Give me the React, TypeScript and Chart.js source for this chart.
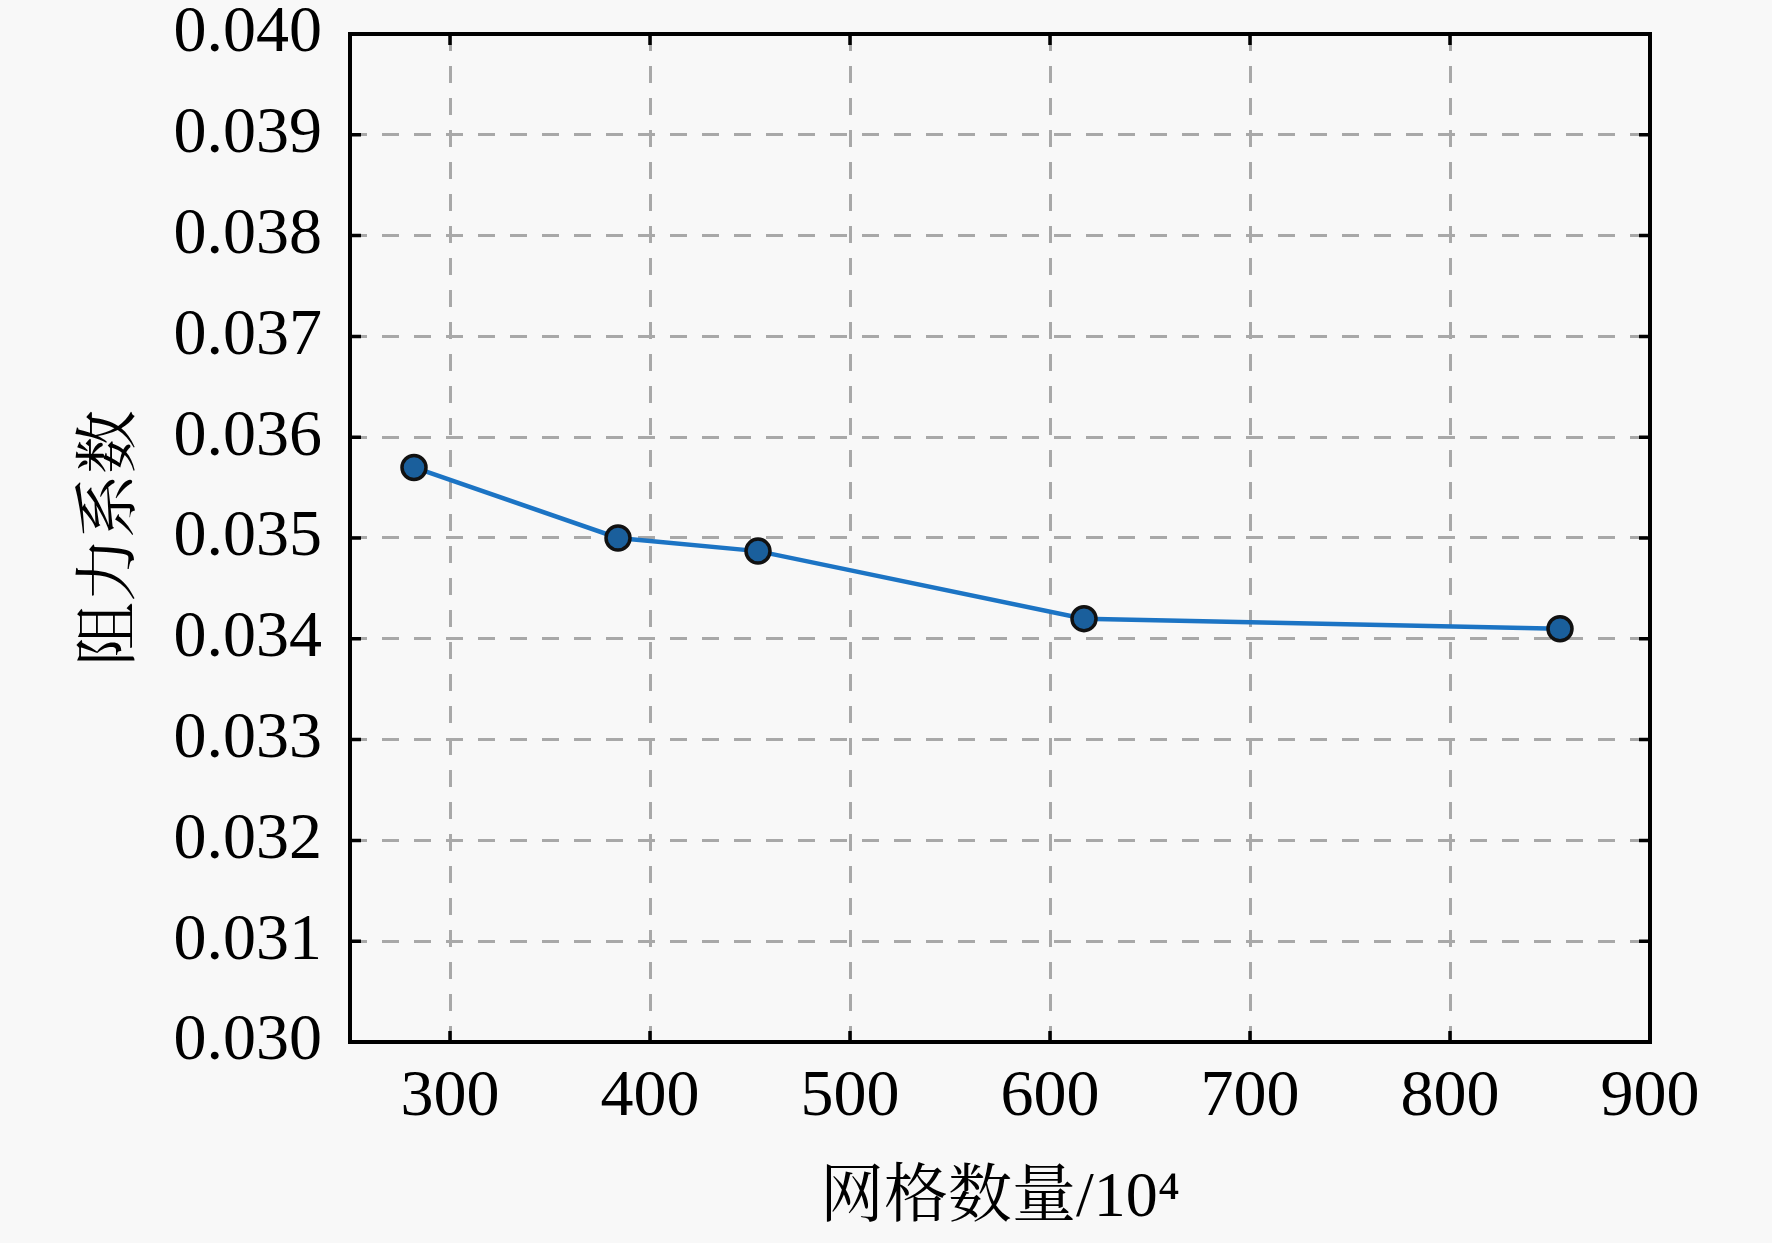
import { useEffect, useRef } from "react";
import { Chart, registerables } from "chart.js";

Chart.register(...registerables);

// mesh count (x 10^4) vs drag coefficient
const meshCounts = [282, 384, 454, 617, 855];
const dragCoefficients = [0.0357, 0.035, 0.03487, 0.0342, 0.0341];

const xMin = 250;
const xMax = 900;
const xStep = 100;
const yMin = 0.03;
const yMax = 0.04;
const yStep = 0.001;

const xTitle = "网格数量/10⁴";
const yTitle = "阻力系数";

const serif = "'Liberation Serif', 'Times New Roman', serif";
const cjk = "'Liberation Serif', 'Noto Serif CJK SC', 'Noto Sans CJK SC', serif";

// black frame with inward ticks on all four sides
const framePlugin = {
  id: "frame",
  beforeDatasetsDraw(chart: any) {
    const { ctx, chartArea: a, scales } = chart;
    const xs = scales.x;
    const ys = scales.y;
    const len = 11;
    ctx.save();
    ctx.strokeStyle = "#000";
    ctx.lineWidth = 3.5;
    ctx.beginPath();
    xs.ticks.forEach((t: any) => {
      const px = xs.getPixelForValue(t.value);
      ctx.moveTo(px, a.bottom);
      ctx.lineTo(px, a.bottom - len);
      ctx.moveTo(px, a.top);
      ctx.lineTo(px, a.top + len);
    });
    ys.ticks.forEach((t: any) => {
      const py = ys.getPixelForValue(t.value);
      ctx.moveTo(a.left, py);
      ctx.lineTo(a.left + len, py);
      ctx.moveTo(a.right, py);
      ctx.lineTo(a.right - len, py);
    });
    ctx.stroke();
    ctx.lineWidth = 4;
    ctx.strokeRect(a.left, a.top, a.right - a.left, a.bottom - a.top);
    ctx.restore();
  },
};

function DragChart() {
  const chartRef = useRef<HTMLCanvasElement | null>(null);

  useEffect(() => {
    document.body.style.margin = "0";
    const ctx = chartRef.current?.getContext("2d");
    if (!ctx) return;

    const chart = new Chart(ctx, {
      type: "line",
      data: {
        datasets: [
          {
            data: meshCounts.map((x, i) => ({ x, y: dragCoefficients[i] })),
            borderColor: "#1c74c4",
            borderWidth: 4.5,
            pointRadius: 12,
            pointBackgroundColor: "#1a5f9c",
            pointBorderColor: "#111",
            pointBorderWidth: 3.5,
            tension: 0,
          },
        ],
      },
      options: {
        responsive: false,
        devicePixelRatio: 1,
        animation: false,
        layout: { padding: { top: 34, right: 122, left: 0, bottom: 0 } },
        plugins: {
          legend: { display: false },
          tooltip: { enabled: false },
        },
        scales: {
          x: {
            type: "linear",
            min: xMin,
            max: xMax,
            afterFit: (s: any) => {
              s.height = 201;
              s.paddingLeft = 0;
              s.paddingRight = 0;
            },
            ticks: {
              stepSize: xStep,
              includeBounds: false,
              padding: 16,
              color: "#000",
              font: { family: serif, size: 66 },
              maxRotation: 0,
            },
            grid: { color: "#a8a8a8", lineWidth: 3, drawTicks: false },
            border: { display: false, dash: [17, 15] },
            title: {
              display: true,
              text: xTitle,
              color: "#000",
              font: { family: cjk, size: 64 },
              padding: { top: 0, bottom: 5 },
            },
          },
          y: {
            type: "linear",
            min: yMin,
            max: yMax,
            afterFit: (s: any) => {
              s.width = 350;
              s.paddingTop = 0;
              s.paddingBottom = 0;
            },
            ticks: {
              stepSize: yStep,
              padding: 28,
              color: "#000",
              font: { family: serif, size: 66 },
              callback: (v: any) => Number(v).toFixed(3),
            },
            grid: { color: "#a8a8a8", lineWidth: 3, drawTicks: false },
            border: { display: false, dash: [17, 15] },
            title: {
              display: true,
              text: yTitle,
              color: "#000",
              font: { family: cjk, size: 64 },
              padding: { top: 74, bottom: 0 },
            },
          },
        },
      },
      plugins: [framePlugin],
    });
    return () => chart.destroy();
  }, []);

  return (
    <div style={{ position: "absolute", left: 0, top: 0, width: 1772, height: 1243, background: "#f8f8f8" }}>
      <canvas ref={chartRef} width={1772} height={1243} style={{ width: 1772, height: 1243 }}></canvas>
    </div>
  );
}

export default function App() {
  return <DragChart />;
}
